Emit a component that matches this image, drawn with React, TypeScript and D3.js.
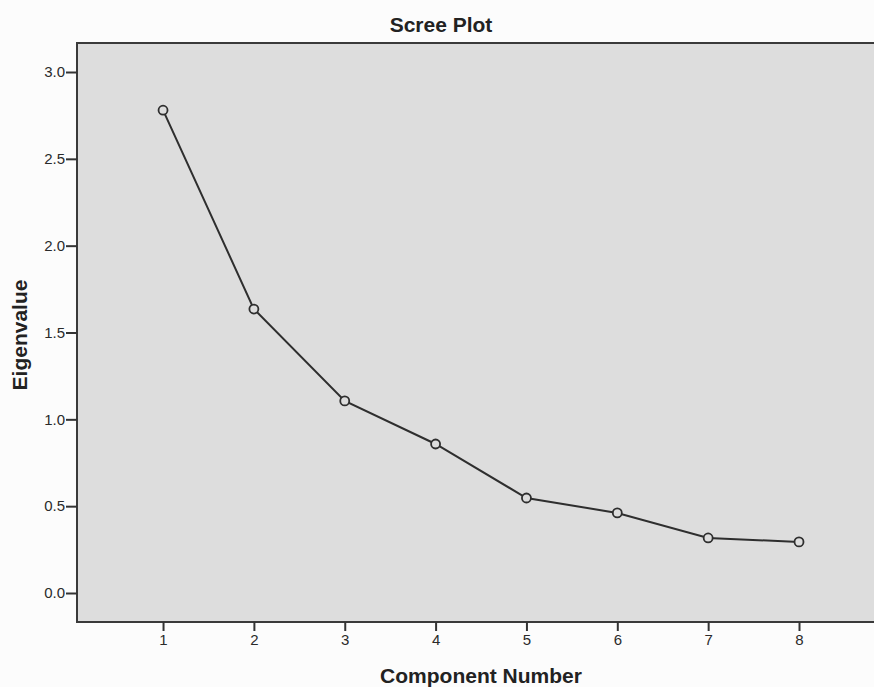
import React, { useEffect, useRef } from "react";
import * as d3 from "d3";

const components = [1, 2, 3, 4, 5, 6, 7, 8];
const eigenvalues = [2.78, 1.635, 1.106, 0.858, 0.547, 0.461, 0.317, 0.294];
const yTicks = [0, 0.5, 1.0, 1.5, 2.0, 2.5, 3.0];

const W = 874;
const H = 687;

export default function App() {
  const ref = useRef<SVGSVGElement>(null);

  useEffect(() => {
    document.body.style.margin = "0";
    const svg = d3.select(ref.current);
    svg.selectAll("*").remove();

    const left = 77, top = 43, bottom = 622, right = 890;
    const x = d3.scaleLinear().domain([0.053, 8 + (right - 799) / 90.86]).range([left, right]);
    const y = d3.scaleLinear().domain([-0.167, 3.167]).range([bottom, top]);

    svg.append("rect").attr("width", W).attr("height", H).attr("fill", "#fcfcfc");

    svg.append("rect")
      .attr("x", left).attr("y", top)
      .attr("width", right - left).attr("height", bottom - top)
      .attr("fill", "#dddddd");

    // frame: top, left, bottom (no right side visible)
    const frame = d3.path();
    frame.moveTo(right, top);
    frame.lineTo(left, top);
    frame.lineTo(left, bottom);
    frame.lineTo(right, bottom);
    svg.append("path").attr("d", frame.toString())
      .attr("fill", "none").attr("stroke", "#3a3a3a").attr("stroke-width", 2);

    const yAxis = d3.axisLeft(y).tickValues(yTicks).tickFormat(d3.format(".1f")).tickSize(11).tickPadding(1);
    const gy = svg.append("g").attr("transform", `translate(${left},0)`).call(yAxis);
    gy.select(".domain").remove();
    gy.selectAll("line").attr("stroke", "#333").attr("stroke-width", 2);
    gy.selectAll("text")
      .attr("font-family", "Liberation Sans, Arial, sans-serif")
      .attr("font-size", 15).attr("fill", "#2a2a2a");

    const xAxis = d3.axisBottom(x).tickValues(components).tickFormat(d3.format("d")).tickSize(9).tickPadding(3);
    const gx = svg.append("g").attr("transform", `translate(0,${bottom})`).call(xAxis);
    gx.select(".domain").remove();
    gx.selectAll("line").attr("stroke", "#333").attr("stroke-width", 2);
    gx.selectAll("text")
      .attr("font-family", "Liberation Sans, Arial, sans-serif")
      .attr("font-size", 15).attr("fill", "#2a2a2a");

    const pts = components.map((c, i) => [c, eigenvalues[i]] as [number, number]);
    const lineGen = d3.line<[number, number]>().x(d => x(d[0])).y(d => y(d[1]));
    svg.append("path").attr("d", lineGen(pts))
      .attr("fill", "none").attr("stroke", "#2e2e2e").attr("stroke-width", 2);

    svg.selectAll("circle.pt").data(pts).enter().append("circle")
      .attr("class", "pt")
      .attr("cx", d => x(d[0])).attr("cy", d => y(d[1]))
      .attr("r", 4.5)
      .attr("fill", "#dddddd").attr("stroke", "#2e2e2e").attr("stroke-width", 1.8);

    svg.append("text")
      .attr("x", 441).attr("y", 32)
      .attr("text-anchor", "middle")
      .attr("font-family", "Liberation Sans, Arial, sans-serif")
      .attr("font-size", 21).attr("font-weight", "bold").attr("fill", "#222")
      .text("Scree Plot");

    svg.append("text")
      .attr("x", 481).attr("y", 683)
      .attr("text-anchor", "middle")
      .attr("font-family", "Liberation Sans, Arial, sans-serif")
      .attr("font-size", 21).attr("font-weight", "bold").attr("fill", "#222")
      .text("Component Number");

    svg.append("text")
      .attr("transform", "translate(27,335) rotate(-90)")
      .attr("text-anchor", "middle")
      .attr("font-family", "Liberation Sans, Arial, sans-serif")
      .attr("font-size", 21).attr("font-weight", "bold").attr("fill", "#222")
      .text("Eigenvalue");
  }, []);

  return <svg ref={ref} width={W} height={H} style={{ display: "block" }} />;
}
